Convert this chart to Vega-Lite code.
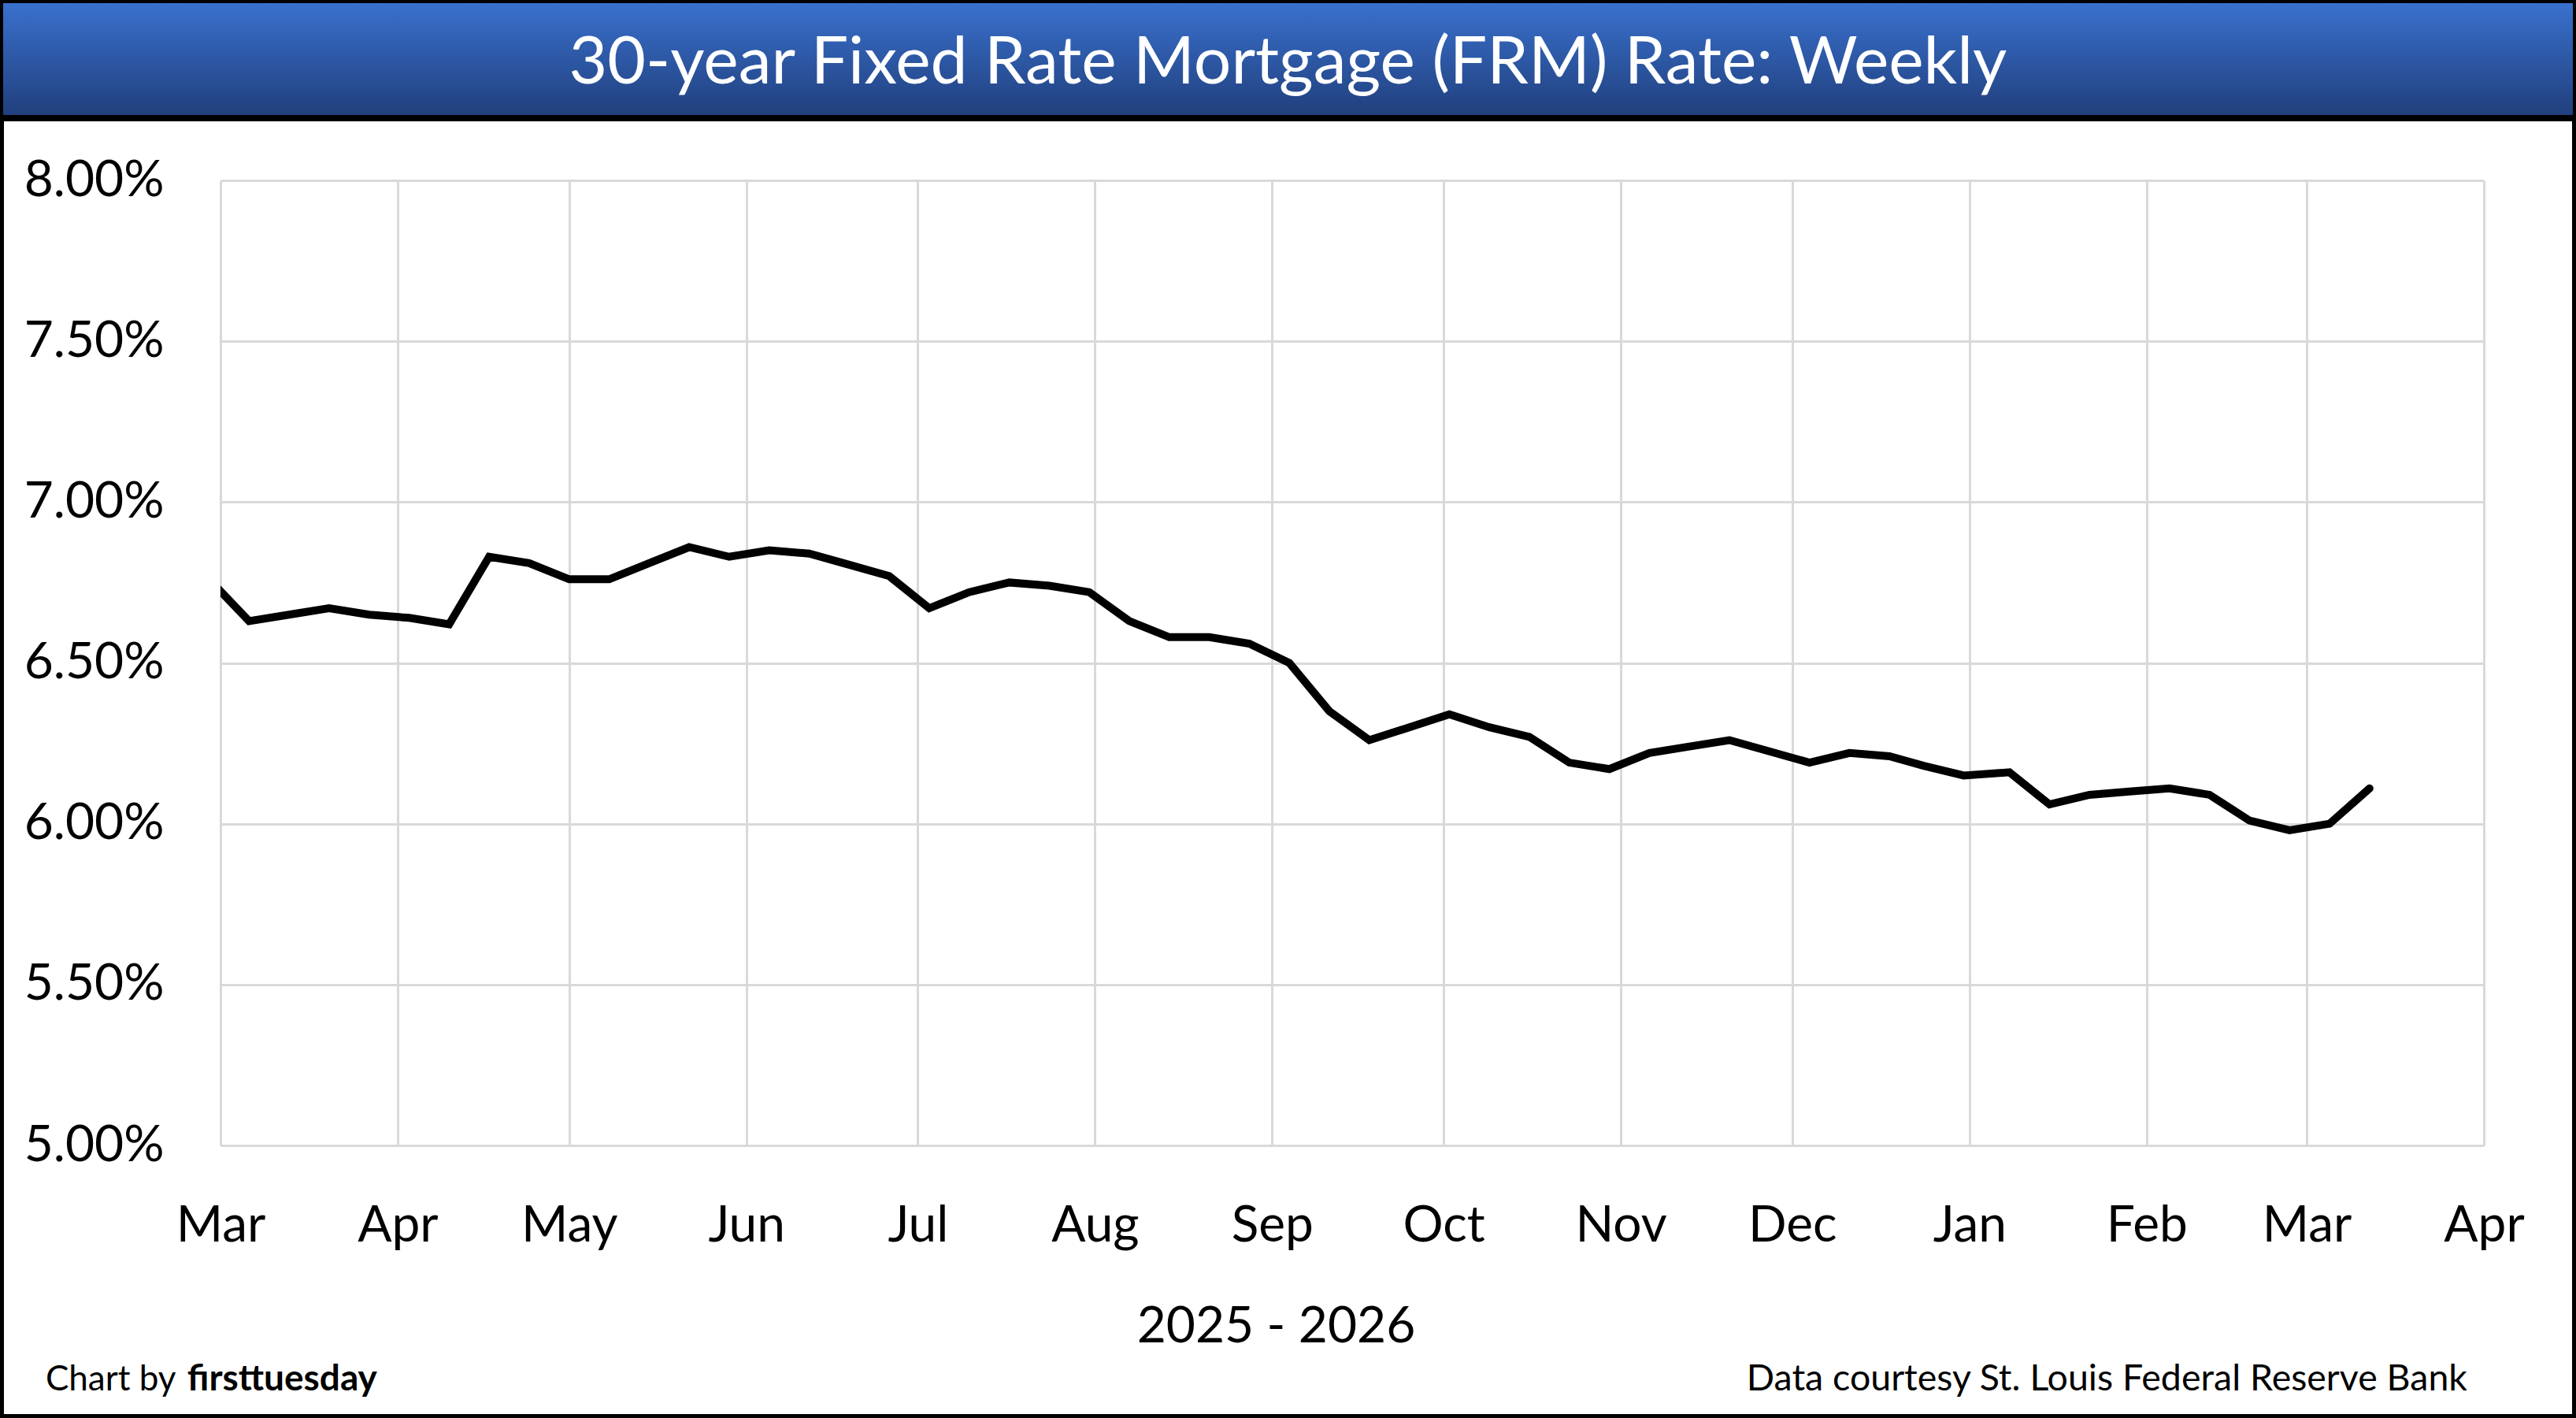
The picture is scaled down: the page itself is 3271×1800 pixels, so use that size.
{
  "$schema": "https://vega.github.io/schema/vega-lite/v6.json",
  "width": 2874,
  "height": 1225,
  "autosize": {"type": "none"},
  "padding": {"left": 280, "top": 229, "right": 117, "bottom": 346},
  "background": "white",
  "config": {"view": {"stroke": null}, "font": "Lato"},
  "layer": [
    {
      "data": {"values": [{}]},
      "mark": {"type": "rect", "filled": false, "stroke": "black", "strokeWidth": 10},
      "encoding": {
        "x": {"datum": 0, "type": "quantitative", "scale": {"domain": [0, 1], "range": [-280, 2991], "nice": false, "zero": false}, "axis": null},
        "x2": {"datum": 1},
        "y": {"datum": 0, "type": "quantitative", "scale": {"domain": [0, 1], "range": [-229, 1571], "nice": false, "zero": false}, "axis": null},
        "y2": {"datum": 1}
      }
    },
    {
      "data": {"values": [{}]},
      "mark": {
        "type": "rect",
        "stroke": "black",
        "strokeWidth": 8,
        "fill": {
          "gradient": "linear",
          "x1": 0, "y1": 0, "x2": 0, "y2": 1,
          "stops": [
            {"offset": 0, "color": "#3a72d0"},
            {"offset": 1, "color": "#203e7a"}
          ]
        }
      },
      "encoding": {
        "x": {"datum": 0, "type": "quantitative", "scale": {"domain": [0, 1], "range": [-280, 2991], "nice": false, "zero": false}, "axis": null},
        "x2": {"datum": 1},
        "y": {"datum": 0, "type": "quantitative", "scale": {"domain": [0, 1], "range": [-229, 1571], "nice": false, "zero": false}, "axis": null},
        "y2": {"datum": 0.0833}
      }
    },
    {
      "data": {"values": [{"label": "30-year Fixed Rate Mortgage (FRM) Rate: Weekly"}]},
      "mark": {"type": "text", "font": "Lato", "fontSize": 84, "color": "white", "align": "center", "baseline": "alphabetic"},
      "encoding": {
        "text": {"field": "label"},
        "x": {"datum": 0.5, "type": "quantitative", "scale": {"domain": [0, 1], "range": [-280, 2991], "nice": false, "zero": false}, "axis": null},
        "y": {"datum": 0.0589, "type": "quantitative", "scale": {"domain": [0, 1], "range": [-229, 1571], "nice": false, "zero": false}, "axis": null}
      }
    },
    {
      "data": {"values": [{"label": "Chart by"}]},
      "mark": {"type": "text", "font": "Lato", "fontSize": 44, "color": "black", "align": "left", "baseline": "alphabetic"},
      "encoding": {
        "text": {"field": "label"},
        "x": {"datum": 0.0177, "type": "quantitative", "scale": {"domain": [0, 1], "range": [-280, 2991], "nice": false, "zero": false}, "axis": null},
        "y": {"datum": 0.9806, "type": "quantitative", "scale": {"domain": [0, 1], "range": [-229, 1571], "nice": false, "zero": false}, "axis": null}
      }
    },
    {
      "data": {"values": [{"label": "firsttuesday"}]},
      "mark": {"type": "text", "font": "Lato", "fontSize": 46, "fontWeight": "bold", "color": "black", "align": "left", "baseline": "alphabetic"},
      "encoding": {
        "text": {"field": "label"},
        "x": {"datum": 0.0727, "type": "quantitative", "scale": {"domain": [0, 1], "range": [-280, 2991], "nice": false, "zero": false}, "axis": null},
        "y": {"datum": 0.9806, "type": "quantitative", "scale": {"domain": [0, 1], "range": [-229, 1571], "nice": false, "zero": false}, "axis": null}
      }
    },
    {
      "data": {"values": [{"label": "Data courtesy St. Louis Federal Reserve Bank"}]},
      "mark": {"type": "text", "font": "Lato", "fontSize": 46.5, "color": "black", "align": "right", "baseline": "alphabetic"},
      "encoding": {
        "text": {"field": "label"},
        "x": {"datum": 0.9578, "type": "quantitative", "scale": {"domain": [0, 1], "range": [-280, 2991], "nice": false, "zero": false}, "axis": null},
        "y": {"datum": 0.9806, "type": "quantitative", "scale": {"domain": [0, 1], "range": [-229, 1571], "nice": false, "zero": false}, "axis": null}
      }
    },
    {
      "data": {
        "values": [
          {"date": "2025-02-27", "rate": 6.76},
          {"date": "2025-03-06", "rate": 6.63},
          {"date": "2025-03-13", "rate": 6.65},
          {"date": "2025-03-20", "rate": 6.67},
          {"date": "2025-03-27", "rate": 6.65},
          {"date": "2025-04-03", "rate": 6.64},
          {"date": "2025-04-10", "rate": 6.62},
          {"date": "2025-04-17", "rate": 6.83},
          {"date": "2025-04-24", "rate": 6.81},
          {"date": "2025-05-01", "rate": 6.76},
          {"date": "2025-05-08", "rate": 6.76},
          {"date": "2025-05-15", "rate": 6.81},
          {"date": "2025-05-22", "rate": 6.86},
          {"date": "2025-05-29", "rate": 6.83},
          {"date": "2025-06-05", "rate": 6.85},
          {"date": "2025-06-12", "rate": 6.84},
          {"date": "2025-06-18", "rate": 6.81},
          {"date": "2025-06-26", "rate": 6.77},
          {"date": "2025-07-03", "rate": 6.67},
          {"date": "2025-07-10", "rate": 6.72},
          {"date": "2025-07-17", "rate": 6.75},
          {"date": "2025-07-24", "rate": 6.74},
          {"date": "2025-07-31", "rate": 6.72},
          {"date": "2025-08-07", "rate": 6.63},
          {"date": "2025-08-14", "rate": 6.58},
          {"date": "2025-08-21", "rate": 6.58},
          {"date": "2025-08-28", "rate": 6.56},
          {"date": "2025-09-04", "rate": 6.50},
          {"date": "2025-09-11", "rate": 6.35},
          {"date": "2025-09-18", "rate": 6.26},
          {"date": "2025-09-25", "rate": 6.30},
          {"date": "2025-10-02", "rate": 6.34},
          {"date": "2025-10-09", "rate": 6.30},
          {"date": "2025-10-16", "rate": 6.27},
          {"date": "2025-10-23", "rate": 6.19},
          {"date": "2025-10-30", "rate": 6.17},
          {"date": "2025-11-06", "rate": 6.22},
          {"date": "2025-11-13", "rate": 6.24},
          {"date": "2025-11-20", "rate": 6.26},
          {"date": "2025-11-26", "rate": 6.23},
          {"date": "2025-12-04", "rate": 6.19},
          {"date": "2025-12-11", "rate": 6.22},
          {"date": "2025-12-18", "rate": 6.21},
          {"date": "2025-12-24", "rate": 6.18},
          {"date": "2025-12-31", "rate": 6.15},
          {"date": "2026-01-08", "rate": 6.16},
          {"date": "2026-01-15", "rate": 6.06},
          {"date": "2026-01-22", "rate": 6.09},
          {"date": "2026-01-29", "rate": 6.10},
          {"date": "2026-02-05", "rate": 6.11},
          {"date": "2026-02-12", "rate": 6.09},
          {"date": "2026-02-19", "rate": 6.01},
          {"date": "2026-02-26", "rate": 5.98},
          {"date": "2026-03-05", "rate": 6.00},
          {"date": "2026-03-12", "rate": 6.11}
        ]
      },
      "mark": {"type": "line", "color": "black", "strokeWidth": 10, "clip": true, "strokeCap": "round", "strokeJoin": "miter"},
      "encoding": {
        "x": {
          "field": "date",
          "type": "temporal",
          "scale": {
            "type": "utc",
            "domain": [
              {"year": 2025, "month": 3, "date": 1, "utc": true},
              {"year": 2026, "month": 4, "date": 1, "utc": true}
            ],
            "nice": false
          },
          "axis": {
            "values": [
              {"year": 2025, "month": 3, "date": 1, "utc": true},
              {"year": 2025, "month": 4, "date": 1, "utc": true},
              {"year": 2025, "month": 5, "date": 1, "utc": true},
              {"year": 2025, "month": 6, "date": 1, "utc": true},
              {"year": 2025, "month": 7, "date": 1, "utc": true},
              {"year": 2025, "month": 8, "date": 1, "utc": true},
              {"year": 2025, "month": 9, "date": 1, "utc": true},
              {"year": 2025, "month": 10, "date": 1, "utc": true},
              {"year": 2025, "month": 11, "date": 1, "utc": true},
              {"year": 2025, "month": 12, "date": 1, "utc": true},
              {"year": 2026, "month": 1, "date": 1, "utc": true},
              {"year": 2026, "month": 2, "date": 1, "utc": true},
              {"year": 2026, "month": 3, "date": 1, "utc": true},
              {"year": 2026, "month": 4, "date": 1, "utc": true}
            ],
            "labelExpr": "utcFormat(datum.value, '%b')",
            "domain": false,
            "ticks": false,
            "tickSize": 0,
            "grid": true,
            "gridColor": "#d9d9d9",
            "gridWidth": 3,
            "labelFont": "Lato",
            "labelFontSize": 64,
            "labelColor": "black",
            "labelBaseline": "alphabetic",
            "labelPadding": 121,
            "labelFlush": false,
            "labelOverlap": false,
            "labelLimit": 0,
            "title": "2025 - 2026",
            "titleFont": "Lato",
            "titleFontSize": 64,
            "titleFontWeight": "normal",
            "titleColor": "black",
            "titleX": 1340,
            "titleY": 249,
            "titleAlign": "center",
            "titleBaseline": "alphabetic"
          }
        },
        "y": {
          "field": "rate",
          "type": "quantitative",
          "scale": {"domain": [5, 8], "nice": false, "zero": false},
          "axis": {
            "values": [5, 5.5, 6, 6.5, 7, 7.5, 8],
            "labelExpr": "format(datum.value, '.2f') + '%'",
            "domain": false,
            "ticks": false,
            "tickSize": 0,
            "grid": true,
            "gridColor": "#d9d9d9",
            "gridWidth": 3,
            "labelFont": "Lato",
            "labelFontSize": 64,
            "labelColor": "black",
            "labelPadding": 72,
            "labelFlush": false,
            "labelOverlap": false,
            "title": null
          }
        }
      }
    }
  ],
  "resolve": {"scale": {"x": "independent", "y": "independent"}}
}
